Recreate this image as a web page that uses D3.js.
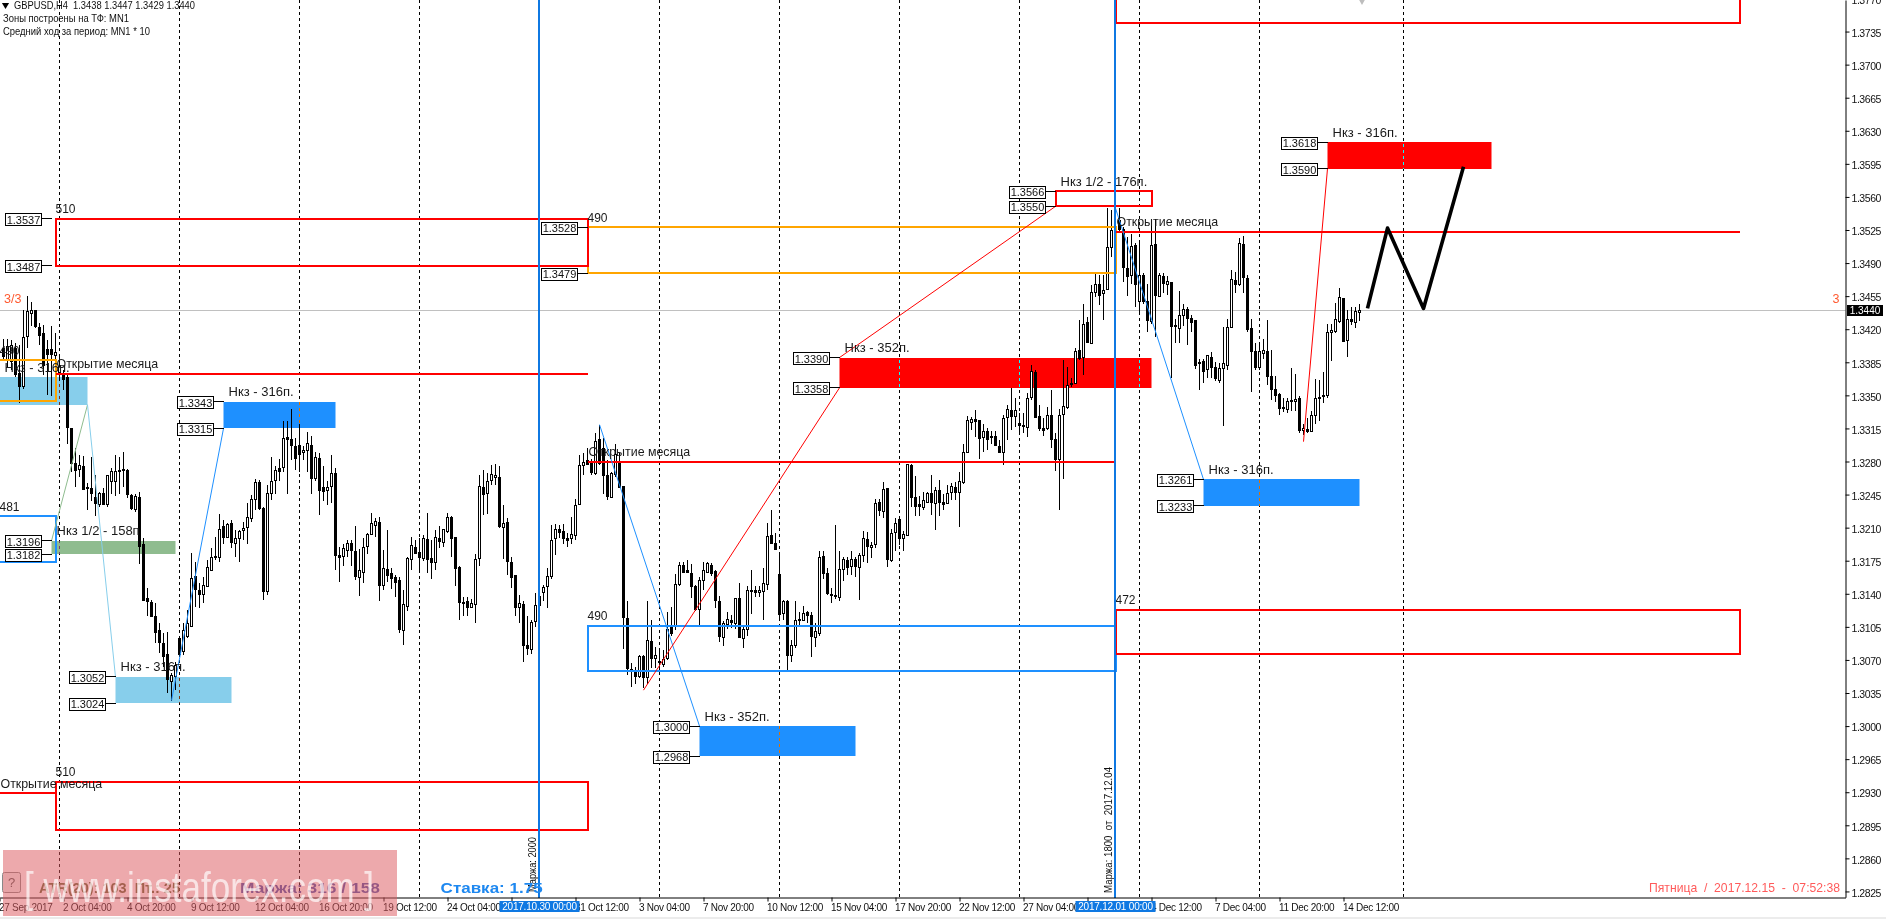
<!DOCTYPE html>
<html><head><meta charset="utf-8"><title>GBPUSD H4</title>
<script src="https://d3js.org/d3.v7.min.js"></script>
<style>html,body{margin:0;padding:0;background:#fff;overflow:hidden}svg{display:block}text{font-family:"Liberation Sans",Arial,sans-serif;white-space:pre}</style>
</head><body><svg id="c" width="1886" height="919"></svg>
<script>
// All candle values are pips above 1.3000
const highs=[410,410,409,405,403,440,455,449,440,427,424,409,423,416,391,377,372,315,294,287,286,257,285,266,248,252,266,273,287,285,290,272,246,246,248,199,146,133,130,109,98,100,56,68,95,109,123,183,174,151,158,176,188,200,224,218,215,218,208,208,216,236,245,262,260,232,255,285,275,283,323,323,336,305,320,296,311,307,290,289,275,259,287,273,190,193,197,197,212,187,199,204,226,220,221,186,208,167,160,158,144,179,200,197,199,202,225,197,207,212,209,226,222,200,169,137,137,135,182,266,271,268,276,277,275,234,220,179,160,139,132,116,112,141,149,149,167,213,214,213,214,204,221,240,287,289,294,283,310,319,305,282,269,299,289,254,132,67,63,75,75,132,112,84,79,81,121,126,161,174,174,176,172,149,158,174,174,173,165,138,111,121,118,135,151,105,148,165,148,148,167,215,229,204,181,133,133,91,132,121,127,122,121,109,185,185,167,146,213,185,179,179,185,179,183,206,205,195,240,240,258,252,209,220,222,206,277,277,265,243,248,248,266,253,260,246,255,257,258,269,299,328,327,335,323,320,315,312,312,303,329,340,358,347,331,331,352,382,377,340,326,338,356,310,336,387,380,368,400,430,447,433,467,478,477,477,548,546,548,548,528,518,521,511,511,479,468,535,537,479,479,476,470,431,460,447,443,435,429,389,389,393,396,385,384,422,431,483,481,517,519,477,431,405,403,410,430,398,370,352,347,347,379,373,349,320,326,333,367,366,375,426,426,448,464,453,440,444,444,447];
const lows=[386,380,377,369,342,357,400,423,421,403,372,350,349,377,365,356,299,269,253,264,250,229,238,222,232,234,232,246,243,246,253,241,229,227,171,132,116,115,88,77,63,35,27,38,75,75,93,105,126,125,130,147,165,176,174,193,199,188,179,174,197,193,216,229,229,133,139,239,246,259,269,246,282,271,269,282,269,246,259,223,238,234,236,165,153,169,179,169,155,138,151,182,202,200,132,144,153,145,137,98,86,122,165,182,165,175,162,156,165,188,189,204,179,148,112,116,116,125,109,169,223,224,255,255,210,177,160,146,116,109,68,75,76,105,126,132,125,156,181,199,193,190,193,197,234,266,276,266,266,276,246,239,241,264,252,82,54,41,45,51,40,45,61,61,59,63,70,95,102,148,162,162,136,122,107,144,162,159,125,89,85,103,104,103,93,83,95,119,137,137,112,144,193,186,111,112,59,68,83,107,111,109,73,84,95,156,139,130,134,132,154,160,160,158,133,174,173,178,188,222,220,168,174,185,192,185,202,232,222,222,229,236,223,207,222,229,236,239,239,211,256,289,313,306,283,290,292,299,296,289,276,303,313,317,308,310,306,345,326,312,307,313,294,270,229,262,336,359,363,387,372,405,404,454,446,430,461,496,507,523,470,455,468,444,437,447,417,426,412,454,458,456,368,405,405,423,403,417,378,356,363,368,368,365,363,318,377,421,458,466,458,417,354,377,377,389,361,345,343,329,332,331,333,333,310,308,310,312,320,323,342,347,386,416,427,407,391,424,421,429];
const opens=[400,387,386,400,373,359,412,437,440,422,415,399,398,392,374,372,369,315,278,272,275,252,251,242,235,246,235,259,259,270,272,271,244,229,242,192,135,131,116,101,87,76,47,52,93,79,95,105,158,144,139,148,165,178,178,211,200,214,193,198,207,210,220,240,258,230,142,246,260,273,274,305,303,296,297,289,292,297,262,283,252,249,254,267,180,179,186,193,185,157,163,190,203,212,215,149,166,161,157,154,101,127,176,189,184,177,197,177,173,199,194,206,221,200,168,131,132,126,129,177,253,246,260,263,263,210,215,173,159,126,129,85,81,111,128,141,148,158,198,208,206,198,198,202,235,276,281,278,267,303,294,265,242,266,280,254,114,60,57,52,74,51,90,71,68,65,71,104,106,150,170,165,162,148,123,154,163,170,164,132,94,107,112,109,135,93,102,143,144,141,142,150,202,193,160,119,132,75,85,113,112,120,117,94,98,179,162,139,138,136,166,175,169,176,168,181,197,189,192,237,227,251,175,205,219,198,202,276,242,234,231,237,246,236,249,237,236,247,253,247,258,290,321,324,323,305,312,305,306,296,289,327,334,328,320,318,316,348,374,328,315,315,329,303,282,330,337,361,363,397,390,427,405,459,467,458,462,507,527,535,525,484,477,509,449,477,449,428,510,455,476,467,469,424,421,435,441,431,429,385,386,377,390,380,366,378,382,422,472,467,510,474,421,396,379,394,396,370,356,351,337,335,344,344,347,313,314,312,329,347,349,350,417,418,428,453,408,430,427,438];
const closes=[391,402,403,372,359,411,439,440,423,413,382,393,393,395,381,367,316,278,271,276,250,251,246,236,246,235,265,269,269,271,271,245,230,243,190,133,132,116,99,88,74,49,54,64,76,101,109,156,145,139,149,168,178,179,208,200,213,194,199,206,209,221,240,258,230,142,246,259,270,269,304,303,297,283,287,292,299,262,284,249,248,253,267,180,178,188,193,186,158,165,189,203,214,216,149,167,159,156,152,102,129,177,191,183,178,198,176,173,200,195,208,221,199,167,131,130,126,130,176,254,245,259,266,265,211,214,174,157,125,130,85,82,110,128,137,147,158,196,208,205,198,196,203,233,276,279,277,268,301,278,265,243,267,287,253,115,61,59,52,74,51,91,72,75,67,70,102,98,150,170,163,163,148,123,154,165,172,162,133,95,109,113,110,135,94,102,144,142,141,143,151,201,193,187,118,132,75,85,112,112,119,117,95,100,178,162,140,138,137,166,176,168,176,169,181,198,190,191,236,228,250,176,204,214,199,203,277,242,232,232,239,246,237,249,237,235,246,254,247,259,289,323,324,322,304,312,303,306,297,290,326,335,328,334,318,317,347,375,327,315,313,329,303,282,329,338,360,363,396,389,425,406,459,467,456,461,507,524,514,525,485,476,508,467,477,449,429,509,456,477,468,470,423,423,435,441,431,427,382,384,375,392,379,368,378,384,422,473,467,511,475,420,396,380,396,397,370,356,350,336,336,344,345,346,313,315,312,329,347,348,350,417,419,430,454,407,430,428,439,440];
const toPrice=p=>1.3+p/10000;

// Zones: [fromBar, toBar, top price, bottom price]
const redZones=[[209,287,1.3390,1.3358],[331,372,1.3618,1.3590]];
const blueZones=[[55,83,1.3343,1.3315],[174,213,1.3000,1.2968],[300,339,1.3261,1.3233]];
const skyZones=[[-10,21,1.3369,1.3340],[28,57,1.3052,1.3024]];
const greenZones=[[12,43,1.3196,1.3182]];
const redBoxes=[[13,146,1.3537,1.3487],[13,146,1.2941,1.2890],[263,287,1.3566,1.3550],[278,434,1.3791,1.3744],[278,434,1.3123,1.3076]];
const orangeBoxes=[[-10,13,1.3387,1.3344],[146,278,1.3528,1.3479]];
const blueBoxes=[[-10,13,1.3222,1.3174],[146,278,1.3106,1.3058]];
// Month-open lines: [fromBar, toBar, price]
const monthOpens=[[13,146,1.3373],[146,278,1.3280],[278,434,1.3523],[-10,13,1.2929]];
// Thin projection lines: [bar, price, bar, price]
const redLegs=[[160,1.3038,209,1.3358],[209,1.3390,263,1.3550],[325,1.3301,331,1.3590]];
const blueLegs=[[42,1.3027,55,1.3315],[149,1.3319,174,1.3000],[278,1.3548,300,1.3261]];
const skyLegs=[[21,1.3340,28,1.3052]];
const greenLegs=[[21,1.3340,12,1.3196]];
const forecastBars=[341,346,355,365];
const forecastPrices=[1.3442,1.3527,1.3442,1.3592];
// Price tags: [price, bar the tag points to]
const tags=[[1.3537,12],[1.3487,12],[1.3528,146],[1.3479,146],[1.3196,12],[1.3182,12],[1.3343,55],[1.3315,55],[1.3052,28],[1.3024,28],[1.3000,174],[1.2968,174],[1.3390,209],[1.3358,209],[1.3566,263],[1.3550,263],[1.3261,300],[1.3233,300],[1.3618,331],[1.3590,331]];
// Captions: [text, bar, price of the object they sit on]
const captions=[["Нкз - 316п.",56,1.3343],["Нкз - 316п.",29,1.3052],["Нкз 1/2 - 158п",13,1.3196],["Нкз - 316п.",0,1.3369],["Нкз - 352п.",175,1.3000],["Нкз - 352п.",210,1.3390],["Нкз 1/2 - 176п.",264,1.3566],["Нкз - 316п.",301,1.3261],["Нкз - 316п.",332,1.3618],["Открытие месяца",13,1.3373],["Открытие месяца",146,1.3280],["Открытие месяца",278,1.3523],["Открытие месяца",-1,1.2929],["510",13,1.3537],["510",13,1.2941],["490",146,1.3528],["490",146,1.3106],["472",278,1.3123],["481",-1,1.3222],["490",-1,1.3387]];
const periodBars=[14,44,74,104,134,164,194,224,254,284,314,350];
const marginBars=[134,278];
const priceTicks=[1.3770,1.3735,1.3700,1.3665,1.3630,1.3595,1.3560,1.3525,1.3490,1.3455,1.3420,1.3385,1.3350,1.3315,1.3280,1.3245,1.3210,1.3175,1.3140,1.3105,1.3070,1.3035,1.3000,1.2965,1.2930,1.2895,1.2860,1.2825];
const timeBars=[-1,15,31,47,63,79,95,111,127,143,159,175,191,207,223,239,255,271,287,303,319,335];
const timeLabels=["27 Sep 2017","2 Oct 04:00","4 Oct 20:00","9 Oct 12:00","12 Oct 04:00","16 Oct 20:00","19 Oct 12:00","24 Oct 04:00","26 Oct 20:00","31 Oct 12:00","3 Nov 04:00","7 Nov 20:00","10 Nov 12:00","15 Nov 04:00","17 Nov 20:00","22 Nov 12:00","27 Nov 04:00","29 Nov 20:00","4 Dec 12:00","7 Dec 04:00","11 Dec 20:00","14 Dec 12:00"];
const bidPrice=1.3440;
const headerLines=["GBPUSD,H4  1.3438 1.3447 1.3429 1.3440","Зоны построены на ТФ: MN1","Средний ход за период: MN1 * 10"];

const svg=d3.select("#c");
const x=d3.scaleLinear().domain([-0.875,460.5]).range([0,1845.5]);
const y=d3.scaleLinear().domain([1.37684,1.28188]).range([0,897.3]);
const W=1886,H=919,axisY=897.5,axisX=1845.5;
const px=v=>Math.round(v-0.5)+0.5;
const BLACK="#000",RED="#ff0000",DODGER="#1e90ff",SKY="#87ceeb",GREEN="#8fbc8f",ORANGE="#ffa500";

svg.append("rect").attr("width",W).attr("height",H).attr("fill","#fff");
const fill=(data,color)=>svg.append("g").selectAll("rect").data(data).join("rect")
  .attr("x",d=>x(d[0])).attr("width",d=>x(d[1])-x(d[0])).attr("y",d=>Math.round(y(d[2]))).attr("height",d=>Math.round(y(d[3]))-Math.round(y(d[2]))).attr("fill",color);
fill(skyZones,SKY);fill(greenZones,GREEN);fill(blueZones,DODGER);fill(redZones,RED);

// period separators (inverted over the filled zones)
svg.append("g").selectAll("line").data(periodBars).join("line")
  .attr("x1",d=>x(d)).attr("x2",d=>x(d)).attr("y1",0).attr("y2",axisY)
  .attr("stroke","#fff").attr("stroke-dasharray","3 3").style("mix-blend-mode","difference");
// bid line
svg.append("line").attr("x1",0).attr("x2",axisX).attr("y1",px(y(bidPrice))).attr("y2",px(y(bidPrice))).attr("stroke","#c0c0c0");

// candles
const idx=d3.range(highs.length);
const cg=svg.append("g").attr("shape-rendering","crispEdges");
cg.selectAll("line").data(idx).join("line")
  .attr("x1",i=>x(i)).attr("x2",i=>x(i)).attr("y1",i=>Math.round(y(toPrice(highs[i])))).attr("y2",i=>Math.round(y(toPrice(lows[i])))).attr("stroke",BLACK);
cg.selectAll("rect").data(idx).join("rect")
  .attr("x",i=>x(i)-1).attr("width",2)
  .attr("y",i=>px(y(toPrice(Math.max(opens[i],closes[i])))))
  .attr("height",i=>Math.max(1,px(y(toPrice(Math.min(opens[i],closes[i]))))-px(y(toPrice(Math.max(opens[i],closes[i]))))))
  .attr("fill",i=>closes[i]>=opens[i]?"#fff":BLACK).attr("stroke",BLACK);

// outlined boxes and lines
const outline=(data,color)=>svg.append("g").attr("shape-rendering","crispEdges").selectAll("rect").data(data).join("rect")
  .attr("x",d=>Math.round(x(d[0]))).attr("width",d=>Math.round(x(d[1]))-Math.round(x(d[0]))).attr("y",d=>Math.round(y(d[2]))).attr("height",d=>Math.round(y(d[3]))-Math.round(y(d[2])))
  .attr("fill","none").attr("stroke",color).attr("stroke-width",2);
outline(orangeBoxes,ORANGE);outline(blueBoxes,DODGER);outline(redBoxes,RED);
svg.append("g").attr("shape-rendering","crispEdges").selectAll("line").data(monthOpens).join("line")
  .attr("x1",d=>x(d[0])).attr("x2",d=>x(d[1])).attr("y1",d=>Math.round(y(d[2]))).attr("y2",d=>Math.round(y(d[2]))).attr("stroke",RED).attr("stroke-width",2);
const legs=(data,color)=>svg.append("g").selectAll("line").data(data).join("line")
  .attr("x1",d=>x(d[0])).attr("y1",d=>y(d[1])).attr("x2",d=>x(d[2])).attr("y2",d=>y(d[3])).attr("stroke",color).attr("stroke-width",1);
legs(greenLegs,GREEN);legs(skyLegs,SKY);legs(blueLegs,DODGER);legs(redLegs,RED);

// forecast
svg.append("path").datum(d3.zip(forecastBars,forecastPrices))
  .attr("d",d3.line().x(d=>x(d[0])).y(d=>y(d[1])))
  .attr("fill","none").attr("stroke",BLACK).attr("stroke-width",3.6).attr("stroke-linejoin","round");
// small grey marker at the top edge
svg.append("path").attr("d",d3.symbol(d3.symbolDiamond,28)()).attr("transform",`translate(${x(340)-1.5},0)`).attr("fill","#bdbdbd");

// price tags
const tg=svg.append("g").selectAll("g").data(tags).join("g");
tg.append("line").attr("x1",d=>x(d[1])-10).attr("x2",d=>x(d[1])).attr("y1",d=>px(y(d[0]))).attr("y2",d=>px(y(d[0]))).attr("stroke",BLACK).attr("shape-rendering","crispEdges");
tg.append("rect").attr("x",d=>px(x(d[1])-46)).attr("y",d=>px(y(d[0])-5)).attr("width",36).attr("height",12).attr("fill","#fff").attr("stroke",BLACK).attr("shape-rendering","crispEdges");
tg.append("text").attr("x",d=>x(d[1])-28).attr("y",d=>y(d[0])+5).attr("text-anchor","middle").attr("font-size",11).attr("fill","#111").text(d=>d[0].toFixed(4));

// captions
svg.append("g").selectAll("text").data(captions).join("text")
  .attr("x",d=>x(d[1])+(/^\d/.test(d[0])?0:1)).attr("y",d=>y(d[2])-5.5)
  .attr("font-size",d=>/^Откр/.test(d[0])?12.4:/^Нкз/.test(d[0])?13:12).attr("fill","#1a1a1a").text(d=>d[0]);

// margin lines
const BLUEV="#0f78e2";
svg.append("g").attr("shape-rendering","crispEdges").selectAll("line").data(marginBars).join("line")
  .attr("x1",d=>x(d)-0.5).attr("x2",d=>x(d)-0.5).attr("y1",0).attr("y2",axisY).attr("stroke",BLUEV).attr("stroke-width",2);
const vText=(t,bar,bottom,len)=>svg.append("text").attr("transform",`translate(${x(bar)-4},${bottom}) rotate(-90)`).attr("font-size",10.5).attr("fill","#111").attr("textLength",len).attr("lengthAdjust","spacingAndGlyphs").text(t);
vText("Маржа: 2000",134,892,55);
vText("Маржа: 1800  от  2017.12.04",278,893,126);

// bottom panel texts
const fitted=(t,xx,yy,size,len,color,bold)=>svg.append("text").attr("x",xx).attr("y",yy).attr("font-size",size).attr("font-weight",bold?"bold":null).attr("fill",color).attr("textLength",len).attr("lengthAdjust","spacingAndGlyphs").text(t);
fitted("ATR(20): 103  Пт.: 25",39,893,14,141,"#66663a",true);
fitted("Маржа: 316 / 158",240,893,15,140,"#4a55a8",true);
fitted("Ставка: 1.75",440.6,893,15,102,"#1e88f0",true);
svg.append("rect").attr("x",2.5).attr("y",872.5).attr("width",18).attr("height",20).attr("rx",2).attr("fill","#f0f0f0").attr("stroke","#888");
svg.append("text").attr("x",11.5).attr("y",887).attr("text-anchor","middle").attr("font-size",13).attr("fill","#555").text("?");
fitted("Пятница  /  2017.12.15  -  07:52:38",1649,892,13,191,"#ff5a5a",false);
svg.append("text").attr("x",4).attr("y",303).attr("font-size",12.5).attr("fill","#ff5a30").text("3/3");
svg.append("text").attr("x",1836).attr("y",303).attr("text-anchor","middle").attr("font-size",12.5).attr("fill","#ff5a30").text("3");

// header
svg.append("path").attr("d",d3.symbol(d3.symbolTriangle,22)()).attr("transform","translate(5.5,5) rotate(180)").attr("fill",BLACK);
const hdrLen=[181,126,147];
svg.append("g").selectAll("text").data(headerLines).join("text")
  .attr("x",(d,i)=>i?3:14).attr("y",(d,i)=>[9,22,35][i]).attr("font-size",10.5).attr("fill","#111")
  .attr("textLength",(d,i)=>hdrLen[i]).attr("lengthAdjust","spacingAndGlyphs").text(d=>d);

// axes
const fmt=d3.format(".4f");
const ay=svg.append("g").attr("transform",`translate(${axisX},0)`).call(d3.axisRight(y).tickValues(priceTicks).tickFormat(fmt).tickSize(4).tickSizeOuter(0).tickPadding(2));
const ax=svg.append("g").attr("transform",`translate(0,${axisY})`).call(d3.axisBottom(x).tickValues(timeBars).tickFormat(b=>timeLabels[timeBars.indexOf(b)]).tickSize(4).tickSizeOuter(0).tickPadding(1));
ay.selectAll("text").attr("font-size",10.5).attr("fill","#111").attr("dy","0.45em").style("letter-spacing","-0.45px");
ax.selectAll("text").attr("font-size",10).attr("fill","#111").attr("text-anchor","start").attr("dx","-1").attr("y",6).style("letter-spacing","-0.28px");
ay.attr("font-family",null);ax.attr("font-family",null);

// bid price flag and margin date flags
svg.append("rect").attr("x",1847).attr("y",305).attr("width",36).attr("height",11).attr("fill",BLACK);
svg.append("text").attr("x",1865).attr("y",314).attr("text-anchor","middle").attr("font-size",10).attr("fill","#fff").text(bidPrice.toFixed(4));
const flags=[[134,"2017.10.30 00:00"],[278,"2017.12.01 00:00"]];
svg.append("g").selectAll("rect").data(flags).join("rect").attr("x",d=>x(d[0])-40).attr("y",901).attr("width",80).attr("height",11).attr("fill",BLUEV);
svg.append("g").selectAll("text").data(flags).join("text").attr("x",d=>x(d[0])).attr("y",910).attr("text-anchor","middle").attr("font-size",10).attr("fill","#fff").style("letter-spacing","-0.2px").text(d=>d[1]);
svg.append("rect").attr("y",917).attr("width",W).attr("height",2).attr("fill","#ececec");

// watermark
svg.append("rect").attr("x",3).attr("y",850).attr("width",394).attr("height",66).attr("fill","#dc5a60").attr("fill-opacity",0.52);
svg.append("text").attr("x",24).attr("y",902).attr("font-size",42).attr("textLength",350).attr("lengthAdjust","spacingAndGlyphs").attr("fill","#fff").attr("fill-opacity",0.68).text("[ www.instaforex.com ]");
</script></body></html>
